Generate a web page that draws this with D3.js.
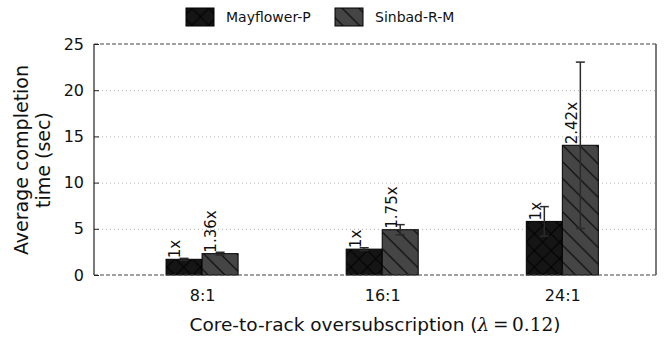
<!DOCTYPE html>
<html>
<head>
<meta charset="utf-8">
<script src="https://cdn.jsdelivr.net/npm/d3@7"></script>
<style>
  html, body { margin: 0; padding: 0; background: #fff; }
  svg { display: block; }
  text { font-family: "DejaVu Sans", sans-serif; fill: #111; }
</style>
</head>
<body>
<svg id="chart" width="667" height="337"></svg>
<script>
// Average completion time per oversubscription ratio
const categories = ["8:1", "16:1", "24:1"];
const seriesNames = ["Mayflower-P", "Sinbad-R-M"];
const mayflower = [1.7, 2.8, 5.8];
const sinbad = [2.31, 4.9, 14.04];
const mayflowerErr = [0.1, 0.15, 1.6];
const sinbadErr = [0.15, 0.55, 9.0];
const mayflowerLabels = ["1x", "1x", "1x"];
const sinbadLabels = ["1.36x", "1.75x", "2.42x"];
const yTicks = [0, 5, 10, 15, 20, 25];

const svg = d3.select("#chart");
const plot = { left: 94, right: 656, top: 44, bottom: 275 };
const barWidth = 0.2;

const x = d3.scaleLinear().domain([-0.6, 2.52]).range([plot.left, plot.right]);
const y = d3.scaleLinear().domain([0, 25]).range([plot.bottom, plot.top]);

// hatch patterns (45° lines, tiled in page space)
const defs = svg.append("defs");
const s = 16.7;
function hatch(id, bg, path) {
  const p = defs.append("pattern").attr("id", id)
    .attr("patternUnits", "userSpaceOnUse").attr("width", s).attr("height", s);
  p.append("rect").attr("width", s).attr("height", s).attr("fill", bg);
  p.append("path").attr("d", path).attr("stroke", "#000").attr("stroke-width", 1).attr("fill", "none");
}
hatch("hatch-x", "#151515",
  `M0,0L${s},${s}M0,${s}L${s},0M-1,-1L1,1M${s-1},${s-1}L${s+1},${s+1}M-1,${s+1}L1,${s-1}M${s-1},1L${s+1},-1`);
hatch("hatch-bs", "#454545",
  `M0,0L${s},${s}M-1,${s-1}L1,${s+1}M${s-1},-1L${s+1},1`);

const series = [
  { name: seriesNames[0], values: mayflower, err: mayflowerErr, labels: mayflowerLabels, fill: "url(#hatch-x)", offset: -barWidth },
  { name: seriesNames[1], values: sinbad, err: sinbadErr, labels: sinbadLabels, fill: "url(#hatch-bs)", offset: 0 }
];

// grid lines
svg.append("g").selectAll("line")
  .data(yTicks.filter(t => t > 0 && t < 25))
  .join("line")
  .attr("x1", plot.left).attr("x2", plot.right)
  .attr("y1", d => y(d) + 0.5).attr("y2", d => y(d) + 0.5)
  .attr("stroke", "#b0b0b0").attr("stroke-width", 1).attr("stroke-dasharray", "1,3");

// bars
series.forEach(sr => {
  svg.append("g").selectAll("rect")
    .data(sr.values)
    .join("rect")
    .attr("x", (d, i) => x(i + sr.offset))
    .attr("y", d => y(d))
    .attr("width", x(barWidth) - x(0))
    .attr("height", d => y(0) - y(d))
    .attr("fill", sr.fill)
    .attr("stroke", "#000").attr("stroke-width", 1);
});

// error bars
series.forEach(sr => {
  const g = svg.append("g").attr("stroke", "#2a2a2a").attr("stroke-width", 1.5);
  sr.values.forEach((v, i) => {
    const cx = x(i + sr.offset + barWidth / 2);
    const lo = y(v - sr.err[i]), hi = y(v + sr.err[i]);
    g.append("line").attr("x1", cx).attr("x2", cx).attr("y1", lo).attr("y2", hi);
    g.append("line").attr("x1", cx - 4.5).attr("x2", cx + 4.5).attr("y1", lo).attr("y2", lo);
    g.append("line").attr("x1", cx - 4.5).attr("x2", cx + 4.5).attr("y1", hi).attr("y2", hi);
  });
});

// rotated speedup labels
series.forEach(sr => {
  svg.append("g").selectAll("text")
    .data(sr.values)
    .join("text")
    .attr("transform", (d, i) => `translate(${x(i + sr.offset + barWidth / 2) - 9},${y(d) - 1}) rotate(-90)`)
    .attr("dy", "0.36em")
    .attr("text-anchor", "start")
    .style("font-size", "15px")
    .text((d, i) => sr.labels[i]);
});

// frame: solid sides, dashed top and bottom
const frame = svg.append("g").attr("fill", "none");
frame.append("line").attr("x1", plot.left).attr("x2", plot.left).attr("y1", plot.top).attr("y2", plot.bottom)
  .attr("stroke", "#222").attr("stroke-width", 1.2);
frame.append("line").attr("x1", plot.right).attr("x2", plot.right).attr("y1", plot.top).attr("y2", plot.bottom)
  .attr("stroke", "#222").attr("stroke-width", 1.2);
frame.append("line").attr("x1", plot.left).attr("x2", plot.right).attr("y1", plot.top).attr("y2", plot.top)
  .attr("stroke", "#444").attr("stroke-width", 1.2).attr("stroke-dasharray", "4,2");
frame.append("line").attr("x1", plot.left).attr("x2", plot.right).attr("y1", plot.bottom).attr("y2", plot.bottom)
  .attr("stroke", "#444").attr("stroke-width", 1.2).attr("stroke-dasharray", "4,2");

// y axis
const yAxis = d3.axisLeft(y).tickValues(yTicks).tickSize(-5).tickPadding(10);
const gy = svg.append("g").attr("transform", `translate(${plot.left},0)`).call(yAxis);
gy.select(".domain").remove();
gy.selectAll(".tick line").attr("stroke", "#222");
gy.selectAll(".tick text").style("font-size", "16px").style("font-family", "DejaVu Sans").attr("fill", "#111");

// x axis at group centres
const xAxis = d3.axisBottom(x).tickValues(categories.map((c, i) => i))
  .tickFormat(i => categories[i]).tickSize(-5).tickPadding(15);
const gx = svg.append("g").attr("transform", `translate(0,${plot.bottom})`).call(xAxis);
gx.select(".domain").remove();
gx.selectAll(".tick line").attr("stroke", "#222");
gx.selectAll(".tick text").style("font-size", "16px").style("font-family", "DejaVu Sans").attr("fill", "#111");

// axis titles
const yt = svg.append("text")
  .attr("transform", "translate(0,160) rotate(-90)")
  .attr("text-anchor", "middle")
  .style("font-size", "19px");
yt.append("tspan").attr("x", 0).attr("y", 28).text("Average completion");
yt.append("tspan").attr("x", 0).attr("y", 50).text("time (sec)");

const xt = svg.append("text")
  .attr("x", (plot.left + plot.right) / 2 - 0).attr("y", 331)
  .attr("text-anchor", "middle")
  .style("font-size", "18.5px");
xt.append("tspan").text("Core-to-rack oversubscription (");
xt.append("tspan").style("font-family", "DejaVu Serif").style("font-style", "italic").text("λ");
xt.append("tspan").style("font-family", "DejaVu Serif").text("\u2009=\u20090.12");
xt.append("tspan").text(")");

// legend
const legend = svg.append("g");
const legendX = [186, 335];
series.forEach((sr, k) => {
  legend.append("rect")
    .attr("x", legendX[k]).attr("y", 8).attr("width", 28).attr("height", 18)
    .attr("fill", sr.fill).attr("stroke", "#000").attr("stroke-width", 1);
  legend.append("text")
    .attr("x", legendX[k] + 40).attr("y", 22)
    .style("font-size", "14px")
    .text(sr.name);
});
</script>
</body>
</html>
